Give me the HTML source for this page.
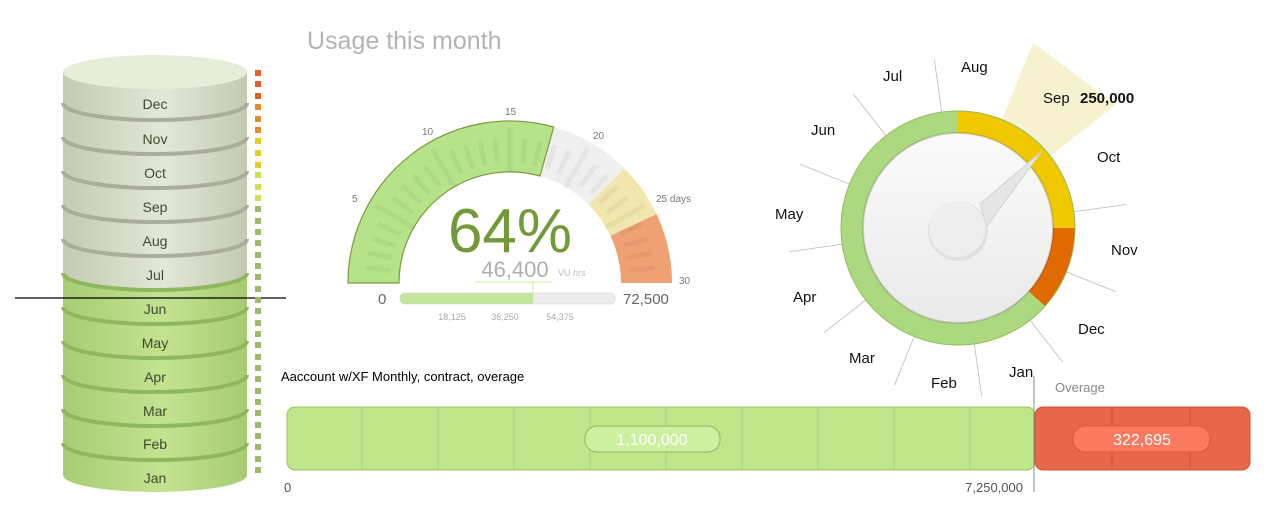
<!DOCTYPE html>
<html><head><meta charset="utf-8"><style>
html,body{margin:0;padding:0;background:#fff;}
svg{display:block;font-family:"Liberation Sans","DejaVu Sans",sans-serif;}
</style></head><body>
<svg width="1275" height="509" viewBox="0 0 1275 509" xmlns="http://www.w3.org/2000/svg">
<defs>
<linearGradient id="gg" x1="0" x2="1" y1="0" y2="0"><stop offset="0" stop-color="#c4cab3"/><stop offset="0.55" stop-color="#e2e8d6"/><stop offset="1" stop-color="#c3c9b2"/></linearGradient>
<linearGradient id="gr" x1="0" x2="1" y1="0" y2="0"><stop offset="0" stop-color="#a6cc74"/><stop offset="0.55" stop-color="#c3e390"/><stop offset="1" stop-color="#a5cb72"/></linearGradient>
<linearGradient id="face" x1="0" x2="0" y1="0" y2="1"><stop offset="0" stop-color="#fbfbfb"/><stop offset="1" stop-color="#e9e9e9"/></linearGradient>
</defs>

<!-- Cylinder -->
<rect x="63" y="72" width="184" height="403" fill="url(#gg)"/>
<path d="M63,273 A92,17 0 0 0 247,273 L247,475 A92,17 0 0 1 63,475 Z" fill="url(#gr)"/>
<ellipse cx="155" cy="72" rx="92" ry="17" fill="#e6edd9"/>
<g fill="none" stroke-width="4">
<path d="M63,103 A92,17 0 0 0 247,103" stroke="#a9ae9a"/>
<path d="M63,137 A92,17 0 0 0 247,137" stroke="#a9ae9a"/>
<path d="M63,171 A92,17 0 0 0 247,171" stroke="#a9ae9a"/>
<path d="M63,205 A92,17 0 0 0 247,205" stroke="#a9ae9a"/>
<path d="M63,239 A92,17 0 0 0 247,239" stroke="#a9ae9a"/>
<path d="M63,273 A92,17 0 0 0 247,273" stroke="#8fb85e"/>
<path d="M63,307 A92,17 0 0 0 247,307" stroke="#8fb85e"/>
<path d="M63,341 A92,17 0 0 0 247,341" stroke="#8fb85e"/>
<path d="M63,375 A92,17 0 0 0 247,375" stroke="#8fb85e"/>
<path d="M63,409 A92,17 0 0 0 247,409" stroke="#8fb85e"/>
<path d="M63,443 A92,17 0 0 0 247,443" stroke="#8fb85e"/>
</g>
<g font-size="14" fill="#3d4a30" text-anchor="middle">
<text x="155" y="109">Dec</text><text x="155" y="144">Nov</text><text x="155" y="178">Oct</text>
<text x="155" y="212">Sep</text><text x="155" y="246">Aug</text><text x="155" y="280">Jul</text>
<text x="155" y="314">Jun</text><text x="155" y="348">May</text><text x="155" y="382">Apr</text>
<text x="155" y="416">Mar</text><text x="155" y="449">Feb</text><text x="155" y="483">Jan</text>
</g>
<line x1="15" y1="298" x2="286" y2="298" stroke="#000" stroke-width="1.2"/>
<g>
<rect x="255" y="70" width="6" height="6" fill="#e4622a"/><rect x="255" y="81" width="6" height="6" fill="#e4622a"/><rect x="255" y="93" width="6" height="6" fill="#e4622a"/>
<rect x="255" y="104" width="6" height="6" fill="#e88c2a"/><rect x="255" y="116" width="6" height="6" fill="#e88c2a"/><rect x="255" y="127" width="6" height="6" fill="#e88c2a"/>
<rect x="255" y="138" width="6" height="6" fill="#e6cf1a"/><rect x="255" y="150" width="6" height="6" fill="#e6cf1a"/><rect x="255" y="162" width="6" height="6" fill="#e6cf1a"/>
<rect x="255" y="172" width="6" height="6" fill="#cfe04a"/><rect x="255" y="184" width="6" height="6" fill="#cfe04a"/><rect x="255" y="195" width="6" height="6" fill="#cfe04a"/>
</g>
<g fill="#9cbc6c">
<rect x="255" y="206" width="6" height="6"/><rect x="255" y="218" width="6" height="6"/><rect x="255" y="229" width="6" height="6"/><rect x="255" y="240" width="6" height="6"/><rect x="255" y="252" width="6" height="6"/><rect x="255" y="263" width="6" height="6"/><rect x="255" y="274" width="6" height="6"/><rect x="255" y="286" width="6" height="6"/><rect x="255" y="297" width="6" height="6"/><rect x="255" y="308" width="6" height="6"/><rect x="255" y="320" width="6" height="6"/><rect x="255" y="331" width="6" height="6"/><rect x="255" y="342" width="6" height="6"/><rect x="255" y="354" width="6" height="6"/><rect x="255" y="365" width="6" height="6"/><rect x="255" y="376" width="6" height="6"/><rect x="255" y="388" width="6" height="6"/><rect x="255" y="399" width="6" height="6"/><rect x="255" y="410" width="6" height="6"/><rect x="255" y="422" width="6" height="6"/><rect x="255" y="433" width="6" height="6"/><rect x="255" y="444" width="6" height="6"/><rect x="255" y="456" width="6" height="6"/><rect x="255" y="467" width="6" height="6"/>
</g>

<!-- Title -->
<text x="307" y="49" font-size="25" fill="#b3b3b3">Usage this month</text>

<!-- Semicircle gauge -->
<g fill="none" stroke-width="51">
<path d="M373.5,283 A136.5,136.5 0 0 1 546.7,151.5" stroke="#b6e38a"/>
<path d="M546.7,151.5 A136.5,136.5 0 0 1 606.5,186.5" stroke="#efefef"/>
<path d="M606.5,186.5 A136.5,136.5 0 0 1 633.5,224.9" stroke="#f1e6ab"/>
<path d="M633.5,224.9 A136.5,136.5 0 0 1 646.5,283" stroke="#efa174"/>
</g>
<path d="M348,283 A162,162 0 0 1 553.7,127 L540.0,176 A111,111 0 0 0 399,283 Z" fill="none" stroke="#7a9a3a" stroke-width="1.2"/>
<g stroke="rgba(0,0,0,0.045)" stroke-width="5">
<line x1="365" y1="283" x2="390" y2="283" transform="rotate(6 510 283)"/>
<line x1="365" y1="283" x2="390" y2="283" transform="rotate(12 510 283)"/>
<line x1="365" y1="283" x2="390" y2="283" transform="rotate(18 510 283)"/>
<line x1="365" y1="283" x2="390" y2="283" transform="rotate(24 510 283)"/>
<line x1="355" y1="283" x2="400" y2="283" transform="rotate(30 510 283)"/>
<line x1="365" y1="283" x2="390" y2="283" transform="rotate(36 510 283)"/>
<line x1="365" y1="283" x2="390" y2="283" transform="rotate(42 510 283)"/>
<line x1="365" y1="283" x2="390" y2="283" transform="rotate(48 510 283)"/>
<line x1="365" y1="283" x2="390" y2="283" transform="rotate(54 510 283)"/>
<line x1="355" y1="283" x2="400" y2="283" transform="rotate(60 510 283)"/>
<line x1="365" y1="283" x2="390" y2="283" transform="rotate(66 510 283)"/>
<line x1="365" y1="283" x2="390" y2="283" transform="rotate(72 510 283)"/>
<line x1="365" y1="283" x2="390" y2="283" transform="rotate(78 510 283)"/>
<line x1="365" y1="283" x2="390" y2="283" transform="rotate(84 510 283)"/>
<line x1="355" y1="283" x2="400" y2="283" transform="rotate(90 510 283)"/>
<line x1="365" y1="283" x2="390" y2="283" transform="rotate(96 510 283)"/>
<line x1="365" y1="283" x2="390" y2="283" transform="rotate(102 510 283)"/>
<line x1="365" y1="283" x2="390" y2="283" transform="rotate(108 510 283)"/>
<line x1="365" y1="283" x2="390" y2="283" transform="rotate(114 510 283)"/>
<line x1="355" y1="283" x2="400" y2="283" transform="rotate(120 510 283)"/>
<line x1="365" y1="283" x2="390" y2="283" transform="rotate(126 510 283)"/>
<line x1="365" y1="283" x2="390" y2="283" transform="rotate(132 510 283)"/>
<line x1="365" y1="283" x2="390" y2="283" transform="rotate(138 510 283)"/>
<line x1="365" y1="283" x2="390" y2="283" transform="rotate(144 510 283)"/>
<line x1="355" y1="283" x2="400" y2="283" transform="rotate(150 510 283)"/>
<line x1="365" y1="283" x2="390" y2="283" transform="rotate(156 510 283)"/>
<line x1="365" y1="283" x2="390" y2="283" transform="rotate(162 510 283)"/>
<line x1="365" y1="283" x2="390" y2="283" transform="rotate(168 510 283)"/>
<line x1="365" y1="283" x2="390" y2="283" transform="rotate(174 510 283)"/>
</g>
<g font-size="10" fill="#777">
<text x="352" y="202">5</text><text x="422" y="135">10</text><text x="505" y="115">15</text>
<text x="593" y="139">20</text><text x="656" y="202">25 days</text><text x="679" y="284">30</text>
</g>
<text x="510" y="252" font-size="62" fill="#739a3a" text-anchor="middle">64%</text>
<text x="515" y="277" font-size="22" fill="#b0b0b0" text-anchor="middle">46,400</text>
<text x="558" y="276" font-size="9" fill="#bbb">VU hrs</text>
<line x1="475" y1="282" x2="552" y2="282" stroke="#c9ec9c" stroke-width="1"/>
<line x1="533" y1="282" x2="533" y2="294" stroke="#c9ec9c" stroke-width="1"/>
<rect x="400" y="293" width="215" height="11" rx="5" fill="#ececec" stroke="#ddd" stroke-width="0.8"/>
<path d="M405,293 L533,293 L533,304 L405,304 A5,5 0 0 1 400,299 L400,298 A5,5 0 0 1 405,293 Z" fill="#c3e59a"/>
<text x="378" y="304" font-size="15" fill="#666">0</text>
<text x="623" y="304" font-size="15" fill="#666">72,500</text>
<g font-size="9" fill="#aaa" text-anchor="middle">
<text x="452" y="320">18,125</text><text x="505" y="320">36,250</text><text x="560" y="320">54,375</text>
</g>

<!-- Dial -->
<path d="M1001.9,119.5 L1033,42.6 L1115.6,104.8 L1050.2,155.9 Z" fill="#f6f2d0"/>
<g stroke="#bbb" stroke-width="0.8">
<line x1="958" y1="111" x2="958" y2="58" transform="rotate(82 958 228)"/>
<line x1="958" y1="111" x2="958" y2="58" transform="rotate(112 958 228)"/>
<line x1="958" y1="111" x2="958" y2="58" transform="rotate(142 958 228)"/>
<line x1="958" y1="111" x2="958" y2="58" transform="rotate(172 958 228)"/>
<line x1="958" y1="111" x2="958" y2="58" transform="rotate(202 958 228)"/>
<line x1="958" y1="111" x2="958" y2="58" transform="rotate(232 958 228)"/>
<line x1="958" y1="111" x2="958" y2="58" transform="rotate(262 958 228)"/>
<line x1="958" y1="111" x2="958" y2="58" transform="rotate(292 958 228)"/>
<line x1="958" y1="111" x2="958" y2="58" transform="rotate(322 958 228)"/>
<line x1="958" y1="111" x2="958" y2="58" transform="rotate(352 958 228)"/>
</g>
<circle cx="958" cy="228" r="96" fill="url(#face)"/>
<g fill="none" stroke-width="22">
<path d="M958,122 A106,106 0 0 1 1064,228" stroke="#f0c800"/>
<path d="M1064,228 A106,106 0 0 1 1036.8,298.9" stroke="#e06a00"/>
<path d="M1036.8,298.9 A106,106 0 1 1 958,122" stroke="#acd880"/>
</g>
<circle cx="958" cy="228" r="117" fill="none" stroke="#8fbf5a" stroke-width="1"/>
<circle cx="958" cy="228" r="95" fill="none" stroke="rgba(0,0,0,0.15)" stroke-width="2"/>
<polygon points="1042,151 980,204 987,226" fill="#e6e6e6" stroke="#d0d0d0" stroke-width="1"/>
<circle cx="958" cy="231" r="30" fill="#e0e0e0"/>
<circle cx="957" cy="229" r="28" fill="#eeeeee"/>
<g font-size="15" fill="#111">
<text x="883" y="81">Jul</text><text x="961" y="72">Aug</text>
<text x="1043" y="103">Sep</text><text x="1080" y="103" font-weight="bold">250,000</text>
<text x="1097" y="162">Oct</text><text x="1111" y="255">Nov</text><text x="1078" y="334">Dec</text>
<text x="1009" y="377">Jan</text><text x="931" y="388">Feb</text><text x="849" y="363">Mar</text>
<text x="793" y="302">Apr</text><text x="775" y="219">May</text><text x="811" y="135">Jun</text>
</g>

<!-- Bullet -->
<text x="281" y="381" font-size="13" fill="#000">Aaccount w/XF Monthly, contract, overage</text>
<rect x="287" y="407" width="748" height="63" rx="8" fill="#c0e68c" stroke="#9cc35a" stroke-width="1"/>
<g stroke="#a8cf78" stroke-width="1">
<line x1="362" y1="408" x2="362" y2="469"/><line x1="438" y1="408" x2="438" y2="469"/><line x1="514" y1="408" x2="514" y2="469"/><line x1="590" y1="408" x2="590" y2="469"/><line x1="666" y1="408" x2="666" y2="469"/><line x1="742" y1="408" x2="742" y2="469"/><line x1="818" y1="408" x2="818" y2="469"/><line x1="894" y1="408" x2="894" y2="469"/><line x1="970" y1="408" x2="970" y2="469"/>
</g>
<rect x="585" y="426" width="135" height="26" rx="12" fill="#cdf0a0" stroke="#8fb855" stroke-width="1"/>
<text x="652" y="445" font-size="16" fill="#fff" text-anchor="middle">1,100,000</text>
<rect x="1035" y="407" width="215" height="63" rx="8" fill="#e6684a" stroke="#cf5236" stroke-width="1"/>
<g stroke="#cf5236"><line x1="1112" y1="408" x2="1112" y2="469"/><line x1="1190" y1="408" x2="1190" y2="469"/></g>
<rect x="1073" y="426" width="137" height="26" rx="12" fill="#fa7a60" stroke="#d85a40" stroke-width="1"/>
<text x="1142" y="445" font-size="16" fill="#fff" text-anchor="middle">322,695</text>
<line x1="1034" y1="376" x2="1034" y2="492" stroke="#888" stroke-width="1"/>
<text x="1055" y="392" font-size="13" fill="#888">Overage</text>
<text x="284" y="492" font-size="13" fill="#555">0</text>
<text x="1023" y="492" font-size="13" fill="#555" text-anchor="end">7,250,000</text>
</svg>
</body></html>
